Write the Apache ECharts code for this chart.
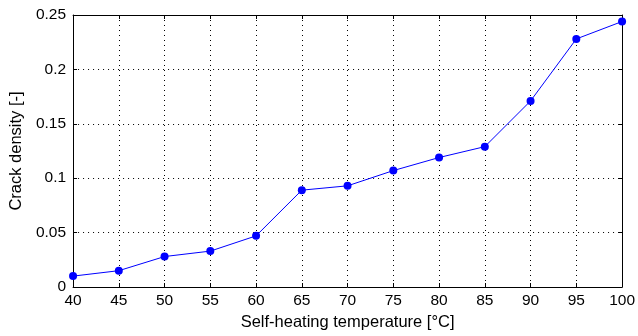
<!DOCTYPE html>
<html>
<head>
<meta charset="utf-8">
<script src="https://cdn.jsdelivr.net/npm/echarts@6/dist/echarts.min.js"></script>
<style>html,body{margin:0;padding:0;background:#fff}#c{width:638px;height:336px}</style>
</head>
<body>
<div id="c"></div>
<script>
const temperatures = [40, 45, 50, 55, 60, 65, 70, 75, 80, 85, 90, 95, 100];
const crackDensity = [0.010, 0.015, 0.028, 0.033, 0.047, 0.089, 0.093, 0.107, 0.119, 0.129, 0.171, 0.228, 0.244];
const yTicks = [0, 0.05, 0.1, 0.15, 0.2, 0.25];
const xTitle = 'Self-heating temperature [°C]';
const yTitle = 'Crack density [-]';

const font = 'Liberation Sans, Arial, sans-serif';
const chart = echarts.init(document.getElementById('c'));
const baseX = {
  type: 'value', min: 40, max: 100, interval: 5,
  axisLine: {show: true, onZero: false, lineStyle: {color: '#000', width: 1}},
  axisTick: {show: true, inside: true, length: 4, lineStyle: {color: '#000'}},
};
const baseY = {
  type: 'value', min: yTicks[0], max: yTicks[yTicks.length - 1], interval: 0.05,
  axisLine: {show: true, onZero: false, lineStyle: {color: '#000', width: 1}},
  axisTick: {show: true, inside: true, length: 4, lineStyle: {color: '#000'}},
};
chart.setOption({
  backgroundColor: '#fff',
  animation: false,
  grid: {left: 71, right: 13, top: 15, bottom: 48, containLabel: false},
  xAxis: [
    Object.assign({}, baseX, {
      position: 'bottom',
      name: xTitle, nameLocation: 'middle', nameGap: 27,
      nameTextStyle: {color: '#000', fontSize: 16.5, fontFamily: font},
      axisLabel: {color: '#000', fontSize: 15.5, fontFamily: font, margin: 6},
      splitLine: {show: true, lineStyle: {color: '#000', type: [1, 4], width: 1}}
    }),
    Object.assign({}, baseX, {
      position: 'top', axisLabel: {show: false}, splitLine: {show: false}
    })
  ],
  yAxis: [
    Object.assign({}, baseY, {
      position: 'left',
      name: yTitle, nameLocation: 'middle', nameGap: 48,
      nameTextStyle: {color: '#000', fontSize: 16.5, fontFamily: font},
      axisLabel: {color: '#000', fontSize: 15.5, fontFamily: font, margin: 7,
        formatter: v => String(+v.toFixed(2))},
      splitLine: {show: true, lineStyle: {color: '#000', type: [1, 4], width: 1}}
    }),
    Object.assign({}, baseY, {
      position: 'right', axisLabel: {show: false}, splitLine: {show: false}
    })
  ],
  series: [{
    type: 'line',
    data: temperatures.map((t, i) => [t, crackDensity[i]]),
    lineStyle: {color: '#0000ff', width: 1},
    itemStyle: {color: '#0000ff'},
    symbol: 'circle', symbolSize: 8,
    showSymbol: true
  }]
});
</script>
</body>
</html>
